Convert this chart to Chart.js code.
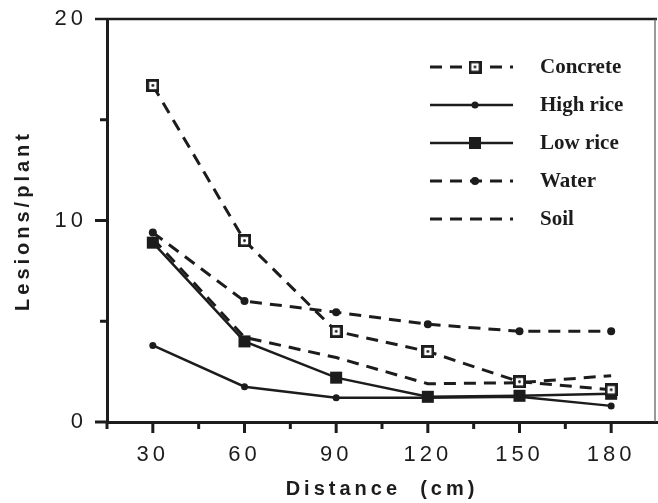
<!DOCTYPE html>
<html>
<head>
<meta charset="utf-8">
<script src="https://cdn.jsdelivr.net/npm/chart.js@4/dist/chart.umd.min.js"></script>
<style>
  html, body { margin: 0; padding: 0; background: #fff; }
  #wrap { width: 658px; height: 503px; }
</style>
</head>
<body>
<div id="wrap"><canvas id="lesionChart" width="658" height="503"></canvas></div>
<script>
// Lesions per plant vs distance from source
const distances = [30, 60, 90, 120, 150, 180];
const concrete = [16.7, 9.0, 4.5, 3.5, 2.0, 1.6];
const highRice = [3.8, 1.75, 1.2, 1.2, 1.25, 0.8];
const lowRice = [8.9, 4.0, 2.2, 1.25, 1.3, 1.4];
const water = [9.4, 6.0, 5.45, 4.85, 4.5, 4.5];
const soil = [9.1, 4.2, 3.2, 1.9, 1.95, 2.3];
const xTickLabels = [30, 60, 90, 120, 150, 180];
const yTickLabels = [0, 10, 20];

const ink = '#1c1c1c';

// open square with a dot, used for the Concrete series
function makeOpenSquare() {
    const c = document.createElement('canvas');
    c.width = 13;
    c.height = 13;
    const g = c.getContext('2d');
    g.fillStyle = '#fff';
    g.fillRect(1, 1, 11, 11);
    g.strokeStyle = ink;
    g.lineWidth = 2.8;
    g.strokeRect(1.4, 1.4, 10.2, 10.2);
    g.fillStyle = ink;
    g.beginPath();
    g.arc(6.5, 6.5, 1.4, 0, Math.PI * 2);
    g.fill();
    return c;
}
const openSquare = makeOpenSquare();

function toPoints(values) {
    return values.map((v, i) => ({ x: distances[i], y: v }));
}

function series(label, values, style) {
    return Object.assign({
        label: label,
        data: toPoints(values),
        borderColor: ink,
        backgroundColor: ink,
        pointBackgroundColor: ink,
        pointBorderColor: ink,
        pointBorderWidth: 0,
        tension: 0,
        fill: false
    }, style);
}

const dash = [12, 8];

// ticks, frame lines and the legend box
const framePlugin = {
    id: 'frame',
    beforeDraw(chart) {
        chart.ctx.letterSpacing = '4px';
    },
    afterDraw(chart) {
        const ctx = chart.ctx;
        const area = chart.chartArea;
        const xs = chart.scales.x;
        const ys = chart.scales.y;
        ctx.save();
        ctx.letterSpacing = '0px';
        ctx.strokeStyle = ink;
        ctx.lineCap = 'butt';

        // top and right frame
        ctx.lineWidth = 2.5;
        ctx.beginPath();
        ctx.moveTo(area.left, area.top);
        ctx.lineTo(area.right, area.top);
        ctx.stroke();
        ctx.lineWidth = 1.2;
        ctx.strokeStyle = '#555';
        ctx.beginPath();
        ctx.moveTo(area.right - 2, area.top);
        ctx.lineTo(area.right - 2, area.bottom);
        ctx.stroke();
        ctx.strokeStyle = ink;

        // x ticks
        ctx.lineWidth = 3;
        xs.ticks.forEach(t => {
            if (t.value >= xs.max) return;
            const px = xs.getPixelForValue(t.value);
            const len = t.value % 30 === 0 ? 11 : 7;
            ctx.beginPath();
            ctx.moveTo(px, area.bottom);
            ctx.lineTo(px, area.bottom + len);
            ctx.stroke();
        });
        // y ticks
        ys.ticks.forEach(t => {
            const py = ys.getPixelForValue(t.value);
            const len = t.value % 10 === 0 ? 12 : 7;
            ctx.lineWidth = t.value === ys.max ? 2.5 : 3;
            ctx.beginPath();
            ctx.moveTo(area.left, py);
            ctx.lineTo(area.left - len, py);
            ctx.stroke();
        });

        // legend
        const lx0 = 430, lx1 = 513, mx = 475, tx = 540;
        let ly = 67;
        ctx.font = 'bold 21px "Liberation Serif", "Times New Roman", serif';
        ctx.textBaseline = 'middle';
        ctx.fillStyle = ink;
        chart.data.datasets.forEach(ds => {
            ctx.lineWidth = ds.borderWidth;
            ctx.setLineDash(ds.borderDash || []);
            ctx.beginPath();
            ctx.moveTo(lx0, ly);
            ctx.lineTo(lx1, ly);
            ctx.stroke();
            ctx.setLineDash([]);
            if (ds.pointRadius > 0) {
                Chart.helpers.drawPoint(ctx, {
                    pointStyle: ds.pointStyle,
                    radius: ds.pointRadius,
                    borderWidth: 0,
                    rotation: 0
                }, mx, ly);
            }
            ctx.fillText(ds.label, tx, ly + 1);
            ly += 38;
        });
        ctx.restore();
    }
};

const sansFont = '"Liberation Sans", Arial, sans-serif';

new Chart(document.getElementById('lesionChart'), {
    type: 'line',
    data: {
        datasets: [
            series('Concrete', concrete, { borderWidth: 3, borderDash: dash, pointStyle: openSquare, pointRadius: 6 }),
            series('High rice', highRice, { borderWidth: 2.5, pointStyle: 'circle', pointRadius: 3.5 }),
            series('Low rice', lowRice, { borderWidth: 2.5, pointStyle: 'rect', pointRadius: 8.5 }),
            series('Water', water, { borderWidth: 3, borderDash: dash, pointStyle: 'circle', pointRadius: 4 }),
            series('Soil', soil, { borderWidth: 3, borderDash: dash, pointRadius: 0 })
        ]
    },
    options: {
        responsive: false,
        animation: false,
        layout: { autoPadding: false, padding: { top: 19, right: 1, left: 0, bottom: 0 } },
        plugins: {
            legend: { display: false },
            tooltip: { enabled: false }
        },
        scales: {
            x: {
                type: 'linear',
                min: 15,
                max: 195,
                afterFit(scale) {
                    scale.height = 81;
                    scale.paddingLeft = 0;
                    scale.paddingRight = 0;
                },
                grid: { display: false, drawTicks: false },
                border: { display: true, color: ink, width: 3 },
                ticks: {
                    stepSize: 15,
                    autoSkip: false,
                    maxRotation: 0,
                    padding: 20,
                    color: ink,
                    font: { family: sansFont, size: 22 },
                    callback: v => xTickLabels.includes(v) ? String(v) : ''
                },
                title: {
                    display: true,
                    text: 'Distance  (cm)',
                    color: ink,
                    font: { family: sansFont, size: 20, weight: 'bold' },
                    padding: { top: 0, bottom: 2 }
                }
            },
            y: {
                min: 0,
                max: 20,
                afterFit(scale) {
                    scale.width = 107;
                    scale.paddingTop = 0;
                    scale.paddingBottom = 0;
                },
                grid: { display: false, drawTicks: false },
                border: { display: true, color: ink, width: 3 },
                ticks: {
                    stepSize: 5,
                    autoSkip: false,
                    padding: 20,
                    color: ink,
                    font: { family: sansFont, size: 22 },
                    callback: v => yTickLabels.includes(v) ? String(v) : ''
                },
                title: {
                    display: true,
                    text: 'Lesions/plant',
                    color: ink,
                    font: { family: sansFont, size: 20, weight: 'bold' },
                    padding: { top: 11, bottom: 0 }
                }
            }
        }
    },
    plugins: [framePlugin]
});
</script>
</body>
</html>
